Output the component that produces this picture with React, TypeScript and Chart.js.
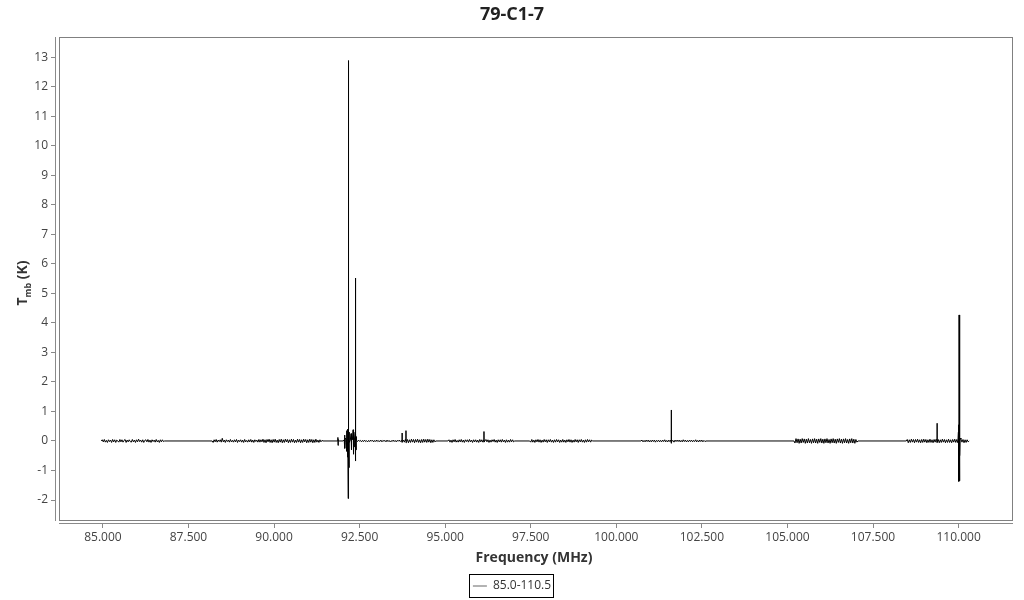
import React, { useEffect, useRef } from "react";
import { Chart, registerables } from "chart.js";

Chart.register(...registerables);

const chartTitle = "79-C1-7";
const xAxisTitle = "Frequency (MHz)";
const legendLabel = "85.0-110.5";

const xMin = 83.6;
const xMax = 111.59;
const yMin = -2.813;
const yMax = 13.687;

// segments: [start MHz, end MHz]
const segmentRanges: [number, number][] = [
  [84.95, 86.8],
  [88.19, 91.43],
  [92.02, 94.73],
  [95.08, 97.03],
  [97.47, 99.31],
  [100.72, 102.62],
  [105.19, 107.06],
  [108.47, 110.31],
];

const seg1 = [.00,.04,-.03,.05,-.04,.02,-.05,.04,-.02,.03,-.05,.05,-.03,.04,-.05,.03,.00,-.04,.05,-.03,.04,-.04,.02,.05,-.05,.03,-.03,.04,-.02,-.04,.05,-.03,.03,-.05,.04,-.03,.06,-.02,.03,-.04,.04,-.05,.02,.04,-.03,.05,-.04,.03,-.05,.04,-.02,.03,-.04,.05,-.03,.02,-.05,.04,-.03,.04,-.02,.00];
const seg2 = [.00,-.05,.04,-.03,.05,-.04,.03,-.02,.04,-.04,.09,-.03,.03,-.05,.04,-.02,.03,-.04,.05,-.03,.02,-.04,.04,-.03,.05,-.05,.03,-.02,.04,-.04,.03,-.05,.05,-.03,.02,-.04,.04,-.03,.05,-.04,.03,-.05,.04,-.02,.03,-.04,.05,-.04,.04,-.03,.06,-.05,.04,-.06,.05,-.03,.06,-.05,.04,-.06,.05,-.04,.06,-.05,.03,-.06,.05,-.04,.06,-.06,.04,-.05,.06,-.03,.05,-.06,.04,-.05,.06,-.04,.05,-.06,.03,-.05,.06,-.04,.05,-.06,.04,-.05,.06,-.03,.05,-.06,.04,-.05,.06,-.04,.05,-.06,.04,-.05,.06,-.04,.03,-.05,.04,-.03,.02,.00];
const seg3 = [.00,.04,-.05,.05,-.04,.05,-.05,.03,-.04,.04,-.02,.03,-.03,.02,-.02,.03,-.01,.02,-.03,.02,-.02,.03,-.02,.01,-.03,.02,-.02,.03,-.01,.02,-.03,.02,-.02,.03,-.02,.01,-.02,.03,-.03,.02,-.01,.02,-.03,.03,-.02,.02,-.03,.01,-.02,.03,-.02,.02,-.03,.02,-.01,.03,-.02,.02,-.03,.03,-.04,.05,-.04,.05,-.06,.04,-.05,.06,-.04,.05,-.06,.05,-.04,.06,-.05,.04,-.06,.05,-.05,.06,-.04,.05,-.05,.06,-.04,.05,-.06,.04,-.05,.04,-.03,.00];
const seg4 = [.00,.04,-.04,.03,-.05,.04,-.03,.05,-.04,.02,-.04,.04,-.03,.05,-.04,.03,-.05,.04,-.02,.04,-.04,.05,-.03,.03,-.05,.04,-.03,.04,-.04,.03,-.05,.05,-.03,.04,-.04,.03,-.04,.05,-.03,.04,-.05,.03,-.04,.04,-.02,.05,-.04,.03,-.05,.04,-.03,.04,-.04,.05,-.03,.03,-.05,.04,-.04,.03,-.04,.05,-.03,.04,-.03,.00];
const seg5 = [.00,-.04,.05,-.04,.03,-.05,.04,-.03,.05,-.04,.04,-.05,.03,-.04,.05,-.03,.04,-.05,.04,-.03,.05,-.04,.03,-.05,.04,-.04,.05,-.03,.04,-.05,.03,-.04,.05,-.04,.03,-.05,.04,-.03,.05,-.04,.04,-.05,.03,-.04,.05,-.03,.04,-.05,.04,-.03,.05,-.04,.03,-.05,.04,-.04,.05,-.03,.04,-.04,.03,.00];
const seg6 = [.00,.03,-.03,.02,-.03,.03,-.02,.03,-.03,.02,-.03,.03,-.02,.03,-.04,.02,-.02,.03,-.03,.02,-.03,.03,-.02,.04,-.03,.02,-.03,.03,-.02,.03,-.03,.02,-.04,.03,-.02,.03,-.02,.03,-.03,.02,-.03,.04,-.02,.03,-.03,.02,-.03,.03,-.02,.03,-.03,.02,-.02,.04,-.03,.02,-.03,.03,-.02,.03,-.03,.02,-.02,.00];
const seg7 = [.00,-.07,.08,-.06,.07,-.08,.06,-.07,.08,-.05,.07,-.08,.06,-.07,.08,-.06,.05,-.08,.07,-.06,.08,-.07,.06,-.08,.07,-.05,.08,-.07,.06,-.08,.07,-.06,.08,-.07,.05,-.08,.07,-.06,.08,-.07,.06,-.08,.07,-.05,.08,-.07,.06,-.08,.07,-.06,.08,-.07,.05,-.08,.07,-.06,.08,-.07,.06,-.08,.05,-.04,.00];
const seg8 = [.00,.05,-.06,.04,-.05,.06,-.04,.05,-.06,.05,-.04,.06,-.05,.04,-.06,.05,-.05,.06,-.04,.05,-.06,.04,-.05,.06,-.05,.04,-.06,.05,-.04,.06,-.05,.05,-.06,.04,-.05,.06,-.04,.05,-.06,.04,-.05,.06,-.05,.04,-.06,.05,-.04,.06,-.05,.05,-.06,.04,-.05,.06,-.04,.05,-.06,.04,-.05,.04,-.03,.00];
const segmentValues = [seg1, seg2, seg3, seg4, seg5, seg6, seg7, seg8];

// explicit line features (frequency MHz, Tmb K)
const lineFreqs = [
  91.86, 91.865, 91.87, 91.875, 91.88,
  92.06, 92.07, 92.08,
  92.12, 92.13, 92.14,
  92.155, 92.16, 92.165, 92.17, 92.175, 92.18, 92.185, 92.19, 92.195,
  92.25, 92.26, 92.27,
  92.31, 92.32, 92.33, 92.34,
  92.37, 92.375, 92.38, 92.385, 92.39, 92.395, 92.4,
  93.739, 93.74, 93.741,
  93.854, 93.855, 93.856,
  96.133, 96.134, 96.135,
  101.598, 101.599, 101.6,
  109.371, 109.372, 109.373,
  109.995, 110.0, 110.005, 110.01, 110.015, 110.02, 110.025, 110.03, 110.035, 110.04, 110.045,
];
const lineValues = [
  0.0, 0.12, -0.15, 0.05, 0.0,
  0.2, -0.25, 0.1,
  0.35, -0.35, 0.3,
  -0.55, 0.4, -1.95, 0.3, 12.89, -1.9, 0.35, -0.9, 0.3,
  0.25, -0.3, 0.15,
  0.38, -0.45, 0.2, -0.2,
  0.3, -0.3, 5.52, -0.68, 0.25, -0.3, 0.15,
  0.0, 0.27, -0.05,
  0.0, 0.35, -0.06,
  0.0, 0.32, -0.04,
  0.0, 1.05, -0.08,
  0.0, 0.6, -0.05,
  0.3, -0.6, 0.55, -1.37, 4.27, -1.35, 0.5, -1.2, 0.4, -0.5, 0.1,
];

function buildPoints() {
  const pts: { x: number; y: number }[] = [];
  segmentRanges.forEach(([a, b], s) => {
    const vals = segmentValues[s];
    const n = vals.length;
    vals.forEach((v, i) => pts.push({ x: a + ((b - a) * i) / (n - 1), y: v }));
  });
  lineFreqs.forEach((f, i) => pts.push({ x: f, y: lineValues[i] }));
  pts.sort((p, q) => p.x - q.x);
  return pts;
}

const FONT = "'Open Sans', 'Noto Sans', sans-serif";

const decorPlugin = {
  id: "decor",
  beforeDatasetsDraw(chart: any) {
    const { ctx, chartArea } = chart;
    const { left, top, right, bottom } = chartArea;
    ctx.save();
    ctx.lineWidth = 1;
    ctx.strokeStyle = "#808080";
    ctx.strokeRect(left + 4.5, top + 0.5, right - left - 5, bottom - top - 4);
    ctx.strokeStyle = "#8a8a8a";
    ctx.beginPath();
    ctx.moveTo(left + 0.5, top);
    ctx.lineTo(left + 0.5, bottom - 3);
    ctx.stroke();
    ctx.beginPath();
    ctx.moveTo(left + 4, bottom - 0.5);
    ctx.lineTo(right, bottom - 0.5);
    ctx.stroke();
    ctx.restore();
  },
  afterDraw(chart: any) {
    const { ctx } = chart;
    ctx.save();
    ctx.translate(22, 283);
    ctx.rotate(-Math.PI / 2);
    ctx.fillStyle = "#333";
    ctx.textBaseline = "alphabetic";
    ctx.textAlign = "left";
    const big = `bold 14px ${FONT}`;
    const small = `bold 9px ${FONT}`;
    ctx.font = big;
    const wT = ctx.measureText("T").width;
    const wK = ctx.measureText(" (K)").width;
    ctx.font = small;
    const wS = ctx.measureText("mb").width;
    let x0 = -(wT + wS + wK) / 2;
    ctx.font = big;
    ctx.fillText("T", x0, 5);
    x0 += wT;
    ctx.font = small;
    ctx.fillText("mb", x0, 9);
    x0 += wS;
    ctx.font = big;
    ctx.fillText(" (K)", x0, 5);
    ctx.restore();
    const lg = chart.legend;
    if (lg && lg.legendHitBoxes && lg.legendHitBoxes[0]) {
      const hb = lg.legendHitBoxes[0];
      ctx.save();
      ctx.strokeStyle = "#000";
      ctx.lineWidth = 1;
      ctx.strokeRect(
        Math.round(hb.left - 4) + 0.5,
        Math.round(hb.top - 6) + 0.5,
        Math.round(hb.width + 6),
        23
      );
      ctx.restore();
    }
  },
};

export default function App() {
  const ref = useRef<HTMLCanvasElement>(null);
  useEffect(() => {
    if (!ref.current) return;
    const chart = new Chart(ref.current, {
      type: "line",
      data: {
        datasets: [
          {
            label: legendLabel,
            data: buildPoints(),
            borderColor: "#000",
            borderWidth: 1,
            pointRadius: 0,
            tension: 0,
            fill: false,
          },
        ],
      },
      options: {
        animation: false,
        responsive: false,
        events: [],
        layout: { padding: { left: 0, right: 0, top: 0, bottom: -2 } },
        plugins: {
          title: {
            display: true,
            text: chartTitle,
            color: "#222",
            font: { family: FONT, size: 18, weight: "bold" },
            padding: { top: 4, bottom: 11.4 },
          },
          legend: {
            display: true,
            position: "bottom",
            labels: {
              usePointStyle: true,
              pointStyleWidth: 14,
              padding: 10,
              color: "#333",
              font: { family: FONT, size: 12 },
              generateLabels: () => [
                {
                  text: legendLabel,
                  strokeStyle: "#666",
                  fillStyle: "#666",
                  lineWidth: 1,
                  pointStyle: "line",
                  hidden: false,
                  datasetIndex: 0,
                  fontColor: "#333",
                } as any,
              ],
            },
          },
          tooltip: { enabled: false },
        },
        scales: {
          x: {
            type: "linear",
            min: xMin,
            max: xMax,
            afterFit: (s: any) => {
              s.height = 46;
            },
            ticks: {
              stepSize: 2.5,
              includeBounds: false,
              maxRotation: 0,
              autoSkip: false,
              padding: 2,
              color: "#444",
              font: { family: FONT, size: 12 },
              callback: (v: any) => Number(v).toFixed(3),
            },
            grid: { display: true, drawOnChartArea: false, drawTicks: true, tickLength: 4, color: "#888" },
            border: { display: false },
            title: {
              display: true,
              text: xAxisTitle,
              color: "#333",
              font: { family: FONT, size: 14, weight: "bold" },
              padding: { top: 0, bottom: 3.6 },
            },
          },
          y: {
            type: "linear",
            min: yMin,
            max: yMax,
            afterFit: (s: any) => {
              s.width = 55;
            },
            ticks: {
              stepSize: 1,
              includeBounds: false,
              padding: 3,
              color: "#444",
              font: { family: FONT, size: 12 },
            },
            grid: { display: true, drawOnChartArea: false, drawTicks: true, tickLength: 4, color: "#888" },
            border: { display: false },
          },
          spacer: {
            type: "linear",
            position: "right",
            display: true,
            afterFit: (s: any) => {
              s.width = 11;
            },
            ticks: { display: false },
            grid: { display: false },
            border: { display: false },
          },
        },
      },
      plugins: [decorPlugin],
    });
    return () => chart.destroy();
  }, []);
  return (
    <div style={{ position: "fixed", left: 0, top: 0, width: 1024, height: 600, background: "#fff" }}>
      <canvas ref={ref} width={1024} height={600} />
    </div>
  );
}
